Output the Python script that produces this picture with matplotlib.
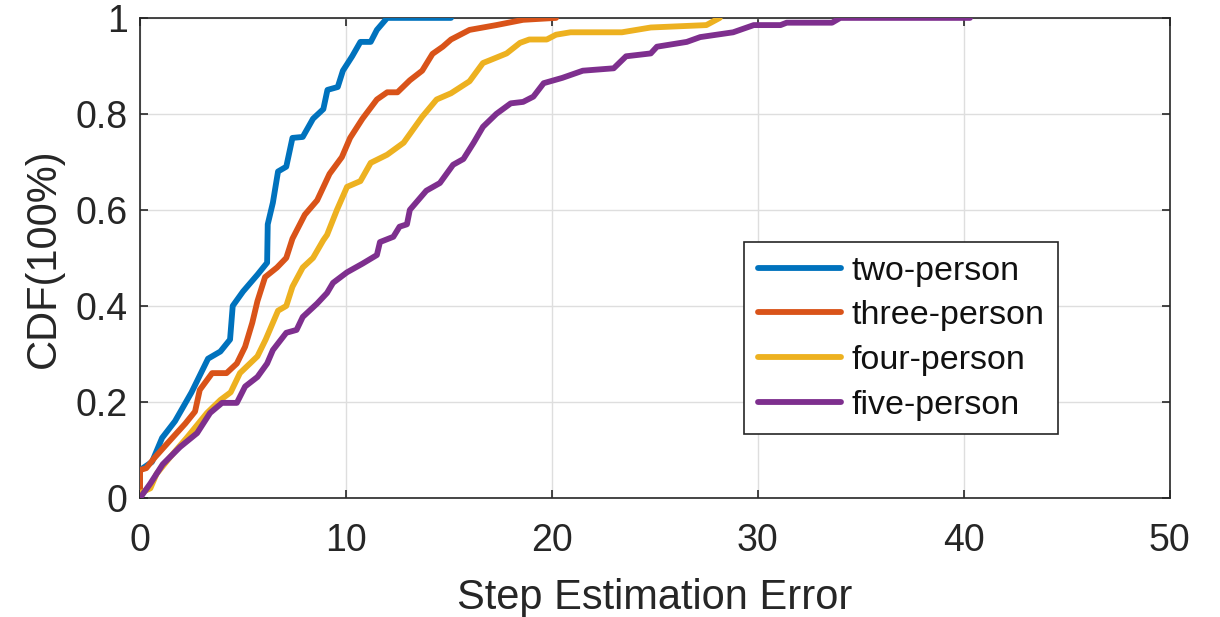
import matplotlib
matplotlib.use("Agg")
import matplotlib.pyplot as plt

# CDF curves of step estimation error, one per crowd size
two_x = [0, 0, 0.58, 1.07, 1.7, 2.5, 3.3, 3.9, 4.37, 4.5, 5.0, 5.7, 6.17, 6.2, 6.45, 6.7,
         7.1, 7.4, 7.9, 8.4, 8.9, 9.1, 9.6, 9.85, 10.3, 10.7, 11.2, 11.5, 11.8, 12.0, 15.1]
two_y = [0, 0.058, 0.075, 0.125, 0.16, 0.22, 0.29, 0.305, 0.33, 0.40, 0.43, 0.465, 0.49, 0.57,
         0.615, 0.68, 0.69, 0.75, 0.752, 0.79, 0.81, 0.85, 0.856, 0.89, 0.92, 0.95, 0.95, 0.975,
         0.99, 1.0, 1.0]

three_x = [0, 0, 0.3, 0.73, 1.46, 2.2, 2.67, 2.9, 3.5, 4.2, 4.7, 5.1, 5.45, 5.7, 6.07, 6.65,
           7.1, 7.4, 8.0, 8.6, 9.2, 9.8, 10.2, 10.8, 11.5, 12.0, 12.5, 13.1, 13.7, 14.2, 14.7,
           15.1, 16.0, 17.3, 18.6, 20.2]
three_y = [0, 0.058, 0.062, 0.085, 0.12, 0.155, 0.18, 0.225, 0.26, 0.26, 0.28, 0.315, 0.365,
           0.41, 0.46, 0.48, 0.50, 0.54, 0.59, 0.62, 0.675, 0.71, 0.75, 0.79, 0.83, 0.845, 0.845,
           0.87, 0.89, 0.925, 0.94, 0.955, 0.975, 0.985, 0.996, 1.0]

four_x = [0, 0.5, 0.8, 1.46, 2.3, 3.25, 3.9, 4.4, 4.85, 5.7, 6.1, 6.45, 6.7, 7.1, 7.4, 7.9,
          8.4, 8.9, 9.08, 9.56, 10.05, 10.7, 11.2, 12.0, 12.8, 13.25, 13.7, 14.4, 15.1, 16.0,
          16.65, 17.0, 17.8, 18.45, 18.9, 19.75, 20.2, 20.9, 23.4, 24.8, 27.5, 28.15]
four_y = [0.01, 0.02, 0.05, 0.085, 0.127, 0.177, 0.204, 0.22, 0.26, 0.295, 0.33, 0.365, 0.39,
          0.40, 0.44, 0.48, 0.50, 0.537, 0.548, 0.60, 0.648, 0.66, 0.698, 0.715, 0.74, 0.767,
          0.794, 0.83, 0.843, 0.868, 0.906, 0.912, 0.926, 0.948, 0.955, 0.955, 0.965, 0.97,
          0.97, 0.98, 0.985, 1.0]

five_x = [0, 0.5, 1.1, 1.94, 2.77, 3.4, 3.98, 4.7, 5.1, 5.7, 6.17, 6.45, 7.1, 7.6, 7.9, 8.6,
          9.08, 9.37, 10.05, 10.8, 11.5, 11.65, 12.3, 12.6, 12.96, 13.1, 13.5, 13.9, 14.56,
          15.2, 15.7, 16.2, 16.65, 17.3, 18.0, 18.6, 19.1, 19.6, 20.5, 21.5, 23.0, 23.6, 24.8,
          25.1, 26.55, 27.2, 28.8, 29.8, 31.1, 31.4, 33.6, 34.0, 40.3]
five_y = [0, 0.03, 0.07, 0.106, 0.135, 0.177, 0.198, 0.198, 0.232, 0.252, 0.28, 0.308, 0.344,
          0.35, 0.377, 0.405, 0.427, 0.448, 0.47, 0.488, 0.506, 0.533, 0.544, 0.565, 0.57, 0.6,
          0.62, 0.64, 0.656, 0.694, 0.706, 0.74, 0.773, 0.80, 0.822, 0.825, 0.836, 0.864, 0.875,
          0.89, 0.895, 0.92, 0.926, 0.94, 0.95, 0.96, 0.97, 0.985, 0.985, 0.99, 0.99, 1.0, 1.0]

labels = ["two-person", "three-person", "four-person", "five-person"]
colors = ["#0072BD", "#D95319", "#EDB120", "#7E2F8E"]

plt.rcParams["font.family"] = ["Liberation Sans", "DejaVu Sans"]
text_color = "#262626"

fig = plt.figure(figsize=(12.2, 6.17), dpi=100)
ax = fig.add_axes([0.1148, 0.193, 0.844, 0.778])

series = [(two_x, two_y), (three_x, three_y), (four_x, four_y), (five_x, five_y)]
for (xs, ys), lab, col in zip(series, labels, colors):
    ax.plot(xs, ys, color=col, lw=4.2, label=lab, solid_joinstyle="round",
            solid_capstyle="round", zorder=3)

ax.set_xlim(0, 50)
ax.set_ylim(0, 1)
ax.set_xticks([0, 10, 20, 30, 40, 50])
ax.set_yticks([0, 0.2, 0.4, 0.6, 0.8, 1.0])
ax.set_yticklabels(["0", "0.2", "0.4", "0.6", "0.8", "1"])
ax.grid(True, color="#dedede", lw=1.0)
ax.set_axisbelow(True)
ax.tick_params(direction="in", length=6, width=1.2, colors=text_color,
               labelsize=27, top=True, right=True, pad=9)
ax.tick_params(axis="x", pad=18)
for s in ax.spines.values():
    s.set_color(text_color)
    s.set_linewidth(1.2)

ax.set_xlabel("Step Estimation Error", fontsize=30, color=text_color, labelpad=14)
ax.set_ylabel("CDF(100%)", fontsize=30, color=text_color, labelpad=8)

leg = ax.legend(loc="upper left", bbox_to_anchor=(0.587, 0.533), fontsize=24.5,
                handlelength=2.44, handletextpad=0.3, labelspacing=0.4,
                borderpad=0.4, borderaxespad=0, fancybox=False, framealpha=1,
                edgecolor=text_color)
leg.get_frame().set_linewidth(1.2)
for t in leg.get_texts():
    t.set_color("#111111")

fig.savefig("out.png", dpi=100)
